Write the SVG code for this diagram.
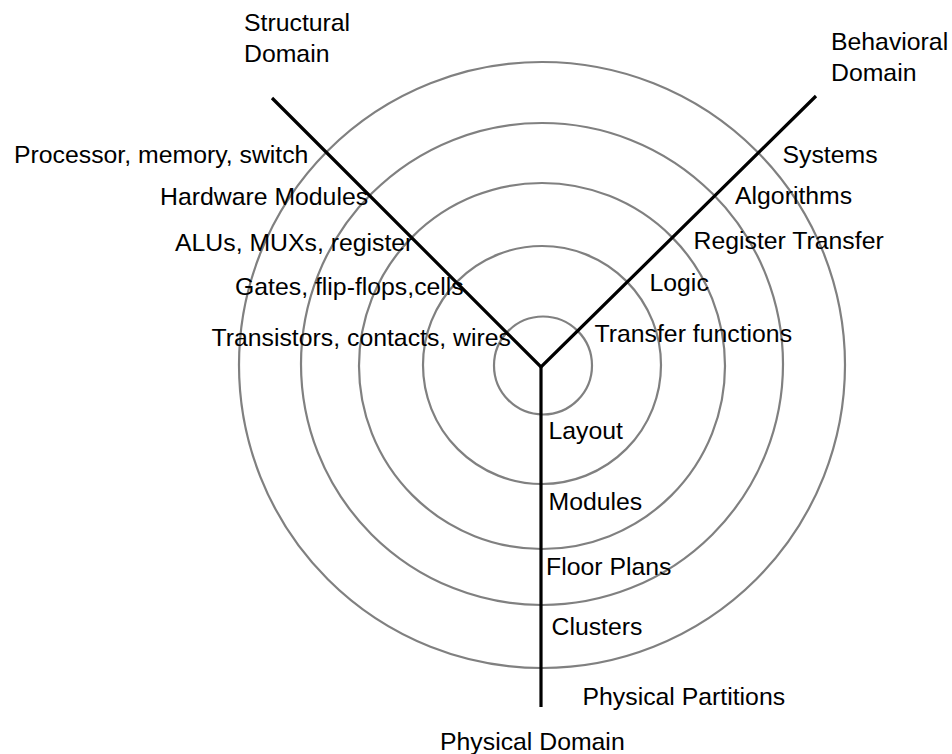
<svg xmlns="http://www.w3.org/2000/svg" width="952" height="754" viewBox="0 0 952 754">
  <style>
    .ring { fill: none; stroke: #808080; stroke-width: 2.2; }
    .axis { fill: none; stroke: #000; stroke-width: 3.2; stroke-linecap: butt; stroke-linejoin: miter; }
    text { font-family: "Liberation Sans", Arial, Helvetica, sans-serif; font-size: 24.8px; fill: #000; }
  </style>
  <rect width="952" height="754" fill="#fff"/>
  <g id="rings">
    <circle class="ring" cx="542" cy="365" r="303"/>
    <circle class="ring" cx="542" cy="364" r="241"/>
    <circle class="ring" cx="542" cy="366" r="183"/>
    <circle class="ring" cx="542" cy="365" r="119"/>
    <circle class="ring" cx="543" cy="365.5" r="49"/>
  </g>
  <g id="connectors">
    <polyline class="axis" points="272,98 541,367 816,96"/>
    <line class="axis" x1="541" y1="367" x2="541" y2="707"/>
  </g>
  <g id="structural-domain"><text x="244" y="30.5">Structural</text><text x="244" y="62">Domain</text></g>
  <g id="behavioral-domain"><text x="831" y="49.5">Behavioral</text><text x="831" y="81">Domain</text></g>
  <g id="physical-domain"><text x="440" y="750">Physical Domain</text></g>
  <g id="s-processor"><text x="14" y="162.5">Processor, memory, switch</text></g>
  <g id="s-hardware"><text x="160" y="205">Hardware Modules</text></g>
  <g id="s-alus"><text x="175" y="250.5">ALUs, MUXs, register</text></g>
  <g id="s-gates"><text x="235" y="294.5">Gates, flip-flops,cells</text></g>
  <g id="s-transistors"><text x="211.5" y="345.5">Transistors, contacts, wires</text></g>
  <g id="b-systems"><text x="782.5" y="162.5">Systems</text></g>
  <g id="b-algorithms"><text x="735" y="204">Algorithms</text></g>
  <g id="b-register"><text x="693.5" y="248.5">Register Transfer</text></g>
  <g id="b-logic"><text x="649.5" y="291">Logic</text></g>
  <g id="b-transfer"><text x="594.5" y="341.5">Transfer functions</text></g>
  <g id="p-layout"><text x="548.5" y="438.5">Layout</text></g>
  <g id="p-modules"><text x="548.5" y="509.5">Modules</text></g>
  <g id="p-floor"><text x="546" y="574.5">Floor Plans</text></g>
  <g id="p-clusters"><text x="551.5" y="635">Clusters</text></g>
  <g id="p-partitions"><text x="582.5" y="705">Physical Partitions</text></g>
</svg>
